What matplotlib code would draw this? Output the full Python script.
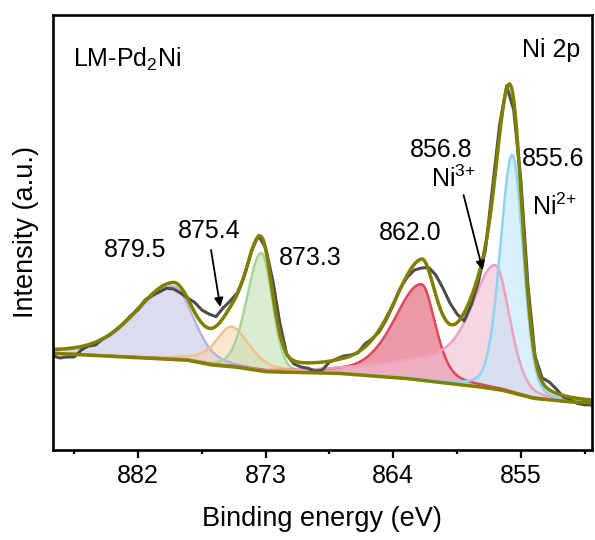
import numpy as np
import matplotlib
matplotlib.use("Agg")
import matplotlib.pyplot as plt

plt.rcParams['font.family'] = ['Liberation Sans', 'DejaVu Sans']
plt.rcParams['mathtext.fontset'] = 'custom'
plt.rcParams['mathtext.rm'] = 'Liberation Sans'
plt.rcParams['mathtext.it'] = 'Liberation Sans:italic'
plt.rcParams['mathtext.default'] = 'regular'

# Ni 2p raw spectrum, read every 0.5 eV (binding energy, intensity a.u.)
be_raw = np.arange(888.0, 849.9, -0.5)
counts = [94, 92, 93, 93, 100, 104, 105, 111, 115, 120.5,
          127, 134.5, 140.5, 150, 154.5, 158, 161.7, 161, 157, 152,
          147.5, 140, 136, 133.3, 142, 149, 157, 174, 199, 214.5,
          202, 170, 127, 95, 86, 83, 81.7, 79, 80, 88,
          91, 94, 95, 97, 106, 111, 118, 130, 145, 162,
          173, 180, 182, 182.5, 175, 162, 147, 136, 129, 145,
          168, 200, 262, 325, 364, 340, 270, 165, 94, 72,
          68, 61, 53, 50, 46.5, 45.2, 45]

# Shirley-type background knots
bg_be = [888.0, 883.3, 878.6, 876.8, 875.3, 873.0, 867.9, 863.2, 860.2, 858.0, 856.4, 854.1, 851.7, 850.0]
bg_val = [96.7, 93.3, 90.0, 85.0, 83.3, 78.3, 76.7, 71.7, 66.7, 63.3, 60.0, 51.7, 48.3, 47.0]

# fitted components
peak_pos = [879.5, 875.4, 873.3, 862.0, 856.8, 855.6]
peak_height = [73, 40, 118, 96, 124, 238]
hw_high = [3.2, 1.35, 1.2, 2.3, 1.8, 1.0]   # half width on the high-BE side
hw_low = [1.65, 1.5, 0.9, 1.15, 1.2, 0.9]   # half width on the low-BE side
lor_frac = [0.3, 0.6, 0.15, 0.4, 0.3, 0.2]
tail_frac = [0, 0, 0, 0, 0.24, 0]           # broad shoulder on the high-BE side
tail_hw = [1, 1, 1, 1, 7.0, 1]
line_cols = ['#b3b6dc', '#f6c08c', '#aad597', '#e0465c', '#ef9fbf', '#8ed3f0']
fill_cols = ['#c4c6e4', '#f8d2ae', '#c2e1b2', '#e2707e', '#f2bcd2', '#bfe6f7']
fill_alpha = [0.6, 0.55, 0.6, 0.7, 0.6, 0.6]

x = np.linspace(888.0, 850.0, 1521)


def pv(x, c, h, hw_hi, hw_lo, eta, tail=0.0, tail_w=1.0):
    hw = np.where(x >= c, hw_hi, hw_lo)
    u = ((x - c) / hw) ** 2
    s = (1 - eta) * np.exp(-np.log(2) * u) + eta / (1 + u)
    if tail:
        t = np.exp(-np.log(2) * ((x - c) / tail_w) ** 2)
        s = np.where(x >= c, (1 - tail) * s + tail * t, s)
    return h * s


bg = np.interp(x[::-1], bg_be[::-1], bg_val[::-1])[::-1]
comps = [pv(x, peak_pos[i], peak_height[i], hw_high[i], hw_low[i], lor_frac[i],
            tail_frac[i], tail_hw[i]) for i in range(len(peak_pos))]
envelope = bg + np.sum(comps, axis=0)

fig = plt.figure(figsize=(5.95, 5.40), dpi=100)
ax = fig.add_axes([0.089, 0.1667, 0.9055, 0.8055])

for i, comp in enumerate(comps):
    ax.fill_between(x, bg, bg + comp, color=fill_cols[i], alpha=fill_alpha[i], lw=0)
for i, comp in enumerate(comps):
    ax.plot(x, bg + comp, color=line_cols[i], lw=1.8)

ax.plot(be_raw, counts, color='#4d4d4d', lw=2.2)
ax.plot(x, bg, color='#808000', lw=2.5)
ax.plot(x, envelope, color='#808000', lw=2.5)

ax.set_xlim(888, 850)
ax.set_ylim(0, 435)
ax.set_xticks([882, 873, 864, 855])
ax.set_xticks([886.5, 877.5, 868.5, 859.5, 850.5], minor=True)
ax.set_yticks([])
ax.tick_params(axis='x', which='major', length=6, width=1.6, labelsize=18, pad=4)
ax.tick_params(axis='x', which='minor', length=3, width=1.6)
for sp in ax.spines.values():
    sp.set_linewidth(1.9)

ax.set_xlabel('Binding energy (eV)', fontsize=19.5, labelpad=13)
ax.set_ylabel('Intensity (a.u.)', fontsize=19.5, labelpad=10)

fs = 18
ax.text(0.0366, 0.881, 'LM-Pd$_2$Ni', transform=ax.transAxes, fontsize=fs, va='baseline')
ax.text(0.978, 0.903, 'Ni 2p', transform=ax.transAxes, fontsize=fs, va='baseline', ha='right')

ax.text(882.23, 193, '879.5', fontsize=fs, ha='center', va='baseline')
ax.text(877.0, 212, '875.4', fontsize=fs, ha='center', va='baseline')
ax.text(872.08, 185, '873.3', fontsize=fs, ha='left', va='baseline')
ax.text(862.81, 210, '862.0', fontsize=fs, ha='center', va='baseline')
ax.text(858.39, 293, '856.8', fontsize=fs, ha='right', va='baseline')
ax.text(858.2, 263, 'Ni$^{3{+}}$', fontsize=fs, ha='right', va='baseline')
ax.text(854.95, 284, '855.6', fontsize=fs, ha='left', va='baseline')
ax.text(854.23, 235, 'Ni$^{2{+}}$', fontsize=fs, ha='left', va='baseline')

arrow = dict(arrowstyle='-|>', color='k', lw=1.3, mutation_scale=13, shrinkA=0, shrinkB=0)
ax.annotate('', xy=(876.2, 143), xytext=(876.85, 200), arrowprops=arrow)
ax.annotate('', xy=(857.69, 180), xytext=(859.04, 255), arrowprops=arrow)

fig.savefig('out.png', dpi=100)
